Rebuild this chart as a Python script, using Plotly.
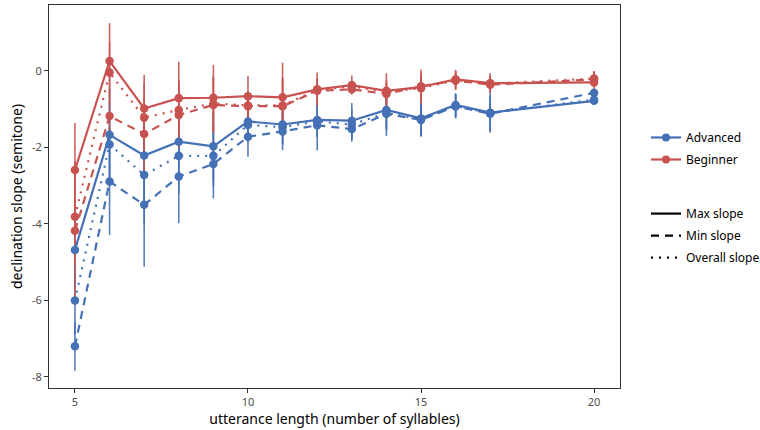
import plotly.graph_objects as go

# ---- data ----
lengths = [5, 6, 7, 8, 9, 10, 11, 12, 13, 14, 15, 16, 17, 20]

adv_max = [-4.68, -1.67, -2.21, -1.85, -1.97, -1.32, -1.40, -1.28, -1.30, -1.02, -1.24, -0.89, -1.09, -0.78]
adv_overall = [-6.00, -1.92, -2.72, -2.22, -2.22, -1.41, -1.47, -1.32, -1.40, -1.10, -1.26, -0.92, -1.10, -0.75]
adv_min = [-7.20, -2.89, -3.50, -2.76, -2.43, -1.72, -1.58, -1.42, -1.52, -1.12, -1.28, -0.92, -1.12, -0.57]

adv_max_err = [1.00, 1.20, 1.30, 1.00, 0.90, 0.50, 0.50, 0.44, 0.46, 0.50, 0.48, 0.31, 0.52, 0.10]
adv_overall_err = [0.90, 1.10, 1.30, 1.00, 0.80, 0.45, 0.45, 0.40, 0.40, 0.45, 0.44, 0.30, 0.45, 0.10]
adv_min_err = [0.64, 1.40, 1.62, 1.22, 0.90, 0.52, 0.49, 0.65, 0.33, 0.58, 0.42, 0.32, 0.47, 0.10]

beg_max = [-2.59, 0.26, -0.98, -0.71, -0.70, -0.66, -0.69, -0.48, -0.37, -0.52, -0.42, -0.22, -0.32, -0.30]
beg_overall = [-3.81, -0.04, -1.22, -1.02, -0.85, -0.90, -0.90, -0.50, -0.40, -0.55, -0.45, -0.24, -0.33, -0.20]
beg_min = [-4.18, -1.18, -1.65, -1.15, -0.89, -0.92, -0.92, -0.52, -0.48, -0.60, -0.40, -0.25, -0.36, -0.22]

beg_max_err = [1.23, 0.99, 0.88, 0.95, 0.86, 0.53, 0.91, 0.44, 0.25, 0.46, 0.46, 0.25, 0.26, 0.30]
beg_overall_err = [1.20, 0.80, 0.90, 0.80, 0.70, 0.35, 0.70, 0.30, 0.10, 0.30, 0.35, 0.22, 0.20, 0.18]
beg_min_err = [1.82, 0.44, 0.98, 0.85, 0.73, 0.36, 0.75, 0.32, 0.10, 0.29, 0.36, 0.25, 0.22, 0.20]

groups = ["Advanced", "Beginner"]
slope_types = ["Max slope", "Min slope", "Overall slope"]
y_tickvals = [0, -2, -4, -6, -8]
y_ticktext = ["0", "-2", "-4", "-6", "-8"]
x_tickvals = [5, 10, 15, 20]

# ---- styles ----
BLUE = "#4470B6"
RED = "#C8524F"
BLUE_ERR = "rgba(68,112,182,0.9)"
RED_ERR = "rgba(200,82,79,0.9)"
DASHES = {"Max slope": "solid", "Min slope": "8px,6px", "Overall slope": "2px,6px"}

series = {
    "Advanced": {
        "Max slope": (adv_max, adv_max_err),
        "Min slope": (adv_min, adv_min_err),
        "Overall slope": (adv_overall, adv_overall_err),
    },
    "Beginner": {
        "Max slope": (beg_max, beg_max_err),
        "Min slope": (beg_min, beg_min_err),
        "Overall slope": (beg_overall, beg_overall_err),
    },
}
colors = {"Advanced": BLUE, "Beginner": RED}
err_colors = {"Advanced": BLUE_ERR, "Beginner": RED_ERR}

fig = go.Figure()

# error bars first
for g in groups:
    for s in slope_types:
        vals, errs = series[g][s]
        fig.add_trace(go.Scatter(
            x=lengths, y=vals, mode="markers",
            marker=dict(size=1, color="rgba(0,0,0,0)"),
            error_y=dict(type="data", array=errs, visible=True, width=0,
                         thickness=1.6, color=err_colors[g]),
            showlegend=False, hoverinfo="skip"))

# lines + points
for g in groups:
    for s in slope_types:
        vals, errs = series[g][s]
        fig.add_trace(go.Scatter(
            x=lengths, y=vals, mode="lines+markers",
            line=dict(color=colors[g], width=2.2, dash=DASHES[s]),
            marker=dict(size=8.5, color=colors[g]),
            showlegend=False, name=f"{g} {s}"))

# legend entries: groups
for g in groups:
    fig.add_trace(go.Scatter(
        x=[None], y=[None], mode="lines+markers", name=g, legendgroup=g,
        line=dict(color=colors[g], width=2.2),
        marker=dict(size=8, color=colors[g]), legend="legend"))
# legend entries: slope types
for s in slope_types:
    fig.add_trace(go.Scatter(
        x=[None], y=[None], mode="lines", name=s, legendgroup=s,
        line=dict(color="black", width=2.2, dash=DASHES[s]), legend="legend2"))

axis_common = dict(showline=True, linecolor="#333333", linewidth=1, mirror=True,
                   showgrid=False, zeroline=False, ticks="outside", ticklen=4,
                   tickcolor="#333333", tickfont=dict(size=11, color="#4D4D4D"))

legend_common = dict(xref="container", yref="container", xanchor="left", yanchor="top",
                     itemwidth=30, font=dict(size=12), bgcolor="rgba(0,0,0,0)",
                     tracegroupgap=3)

fig.update_layout(
    width=760, height=430,
    margin=dict(l=49, r=140, t=5, b=42, autoexpand=False),
    paper_bgcolor="white", plot_bgcolor="white",
    font=dict(family="Noto Sans", color="black"),
    xaxis=dict(range=[4.25, 20.75], tickvals=x_tickvals,
               title=dict(text="utterance length (number of syllables)", font=dict(size=14), standoff=5),
               **axis_common),
    yaxis=dict(range=[-8.29, 1.725], tickvals=y_tickvals, ticktext=y_ticktext,
               title=dict(text="declination slope (semitone)", font=dict(size=14), standoff=6),
               **axis_common),
    legend=dict(x=0.85, y=0.714, **legend_common),
    legend2=dict(x=0.85, y=0.537, **legend_common),
)

fig.write_html("out.html")
